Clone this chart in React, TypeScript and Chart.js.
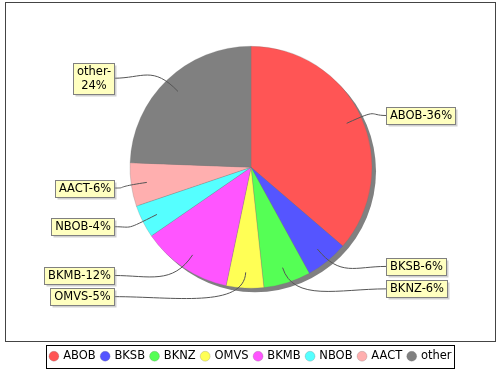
import React, { useEffect, useRef } from 'react';
import { Chart, registerables } from 'chart.js';

Chart.register(...registerables);

const categories = ['ABOB', 'BKSB', 'BKNZ', 'OMVS', 'BKMB', 'NBOB', 'AACT', 'other'];
const values = [36.3, 5.7, 6.3, 5.0, 12.1, 4.4, 5.8, 24.4];
const colors = ['#FF5555', '#5555FF', '#55FF55', '#FFFF55', '#FF55FF', '#55FFFF', '#FFAFAF', '#808080'];
const wrapLabel = [false, false, false, false, false, false, false, true];

const FONT = '"DejaVu Sans", sans-serif';

const decorPlugin = {
  id: 'pieDecor',
  beforeDatasetsDraw(chart: any) {
    const meta = chart.getDatasetMeta(0);
    const a = meta.data[0];
    if (!a) return;
    const { x, y, outerRadius } = a.getProps(['x', 'y', 'outerRadius'], true);
    const ctx = chart.ctx;
    ctx.save();
    ctx.fillStyle = '#808080';
    ctx.beginPath();
    ctx.arc(x + 4, y + 4, outerRadius, 0, Math.PI * 2);
    ctx.fill();
    ctx.restore();
  },
  afterDraw(chart: any) {
    const ctx = chart.ctx;
    ctx.save();
    // outer frame
    ctx.strokeStyle = '#444';
    ctx.lineWidth = 1;
    ctx.strokeRect(5.5, 2.5, 490, 339);

    // legend box
    const lg = chart.legend;
    if (lg && lg.legendHitBoxes && lg.legendHitBoxes.length) {
      const hb = lg.legendHitBoxes;
      const minX = Math.min(...hb.map((h: any) => h.left));
      const maxX = Math.max(...hb.map((h: any) => h.left + h.width));
      const minY = Math.min(...hb.map((h: any) => h.top));
      const maxY = Math.max(...hb.map((h: any) => h.top + h.height));
      ctx.strokeStyle = '#000';
      ctx.strokeRect(Math.round(minX - 4) + 0.5, Math.round(minY - 6) + 0.5, Math.round(maxX - minX + 7), Math.round(maxY - minY + 11));
    }

    // labels
    const meta = chart.getDatasetMeta(0);
    const total = values.reduce((s, v) => s + v, 0);
    ctx.font = '11.5px ' + FONT;
    const lineH = 14;
    const items: any[] = meta.data.map((arc: any, i: number) => {
      const p = arc.getProps(['x', 'y', 'startAngle', 'endAngle', 'outerRadius'], true);
      const mid = (p.startAngle + p.endAngle) / 2;
      const side = Math.cos(mid) >= 0 ? 1 : -1;
      const pct = Math.round((values[i] / total) * 100);
      const lines = wrapLabel[i] ? [categories[i] + '-', pct + '%'] : [categories[i] + '-' + pct + '%'];
      const w = Math.max(...lines.map((l) => ctx.measureText(l).width)) + 7;
      const h = lines.length * lineH + 3;
      const f = side > 0 ? 1.045 : 1.05;
      const off = side > 0 ? 1 : 2.5;
      const cyL = p.y + f * p.outerRadius * Math.sin(mid) + off;
      return { i, p, mid, side, lines, w, h, cyL };
    });
    [1, -1].forEach((side) => {
      const arr = items.filter((it) => it.side === side).sort((a, b) => a.cyL - b.cyL);
      let prevBottom = -Infinity;
      arr.forEach((it) => {
        if (it.cyL - it.h / 2 < prevBottom + 3) it.cyL = prevBottom + 3 + it.h / 2;
        prevBottom = it.cyL + it.h / 2;
      });
    });
    items.forEach((it) => {
      const { p, mid, side } = it;
      const R = p.outerRadius;
      const bx = side > 0 ? p.x + R + 14 : p.x - R - 16 - it.w;
      const by = it.cyL - it.h / 2;
      it.bx = bx;
      it.by = by;
      // link
      const sx = side > 0 ? bx : bx + it.w;
      const sy = it.cyL;
      const ax = p.x + 0.87 * R * Math.cos(mid);
      const ay = p.y + 0.87 * R * Math.sin(mid);
      const c2x = ax + 0.3 * R * Math.cos(mid);
      const c2y = ay + 0.3 * R * Math.sin(mid);
      const c1x = sx + (ax - sx) * 0.45;
      ctx.strokeStyle = '#555';
      ctx.lineWidth = 1;
      ctx.beginPath();
      ctx.moveTo(sx, sy);
      ctx.bezierCurveTo(c1x, sy, c2x, c2y, ax, ay);
      ctx.stroke();
    });
    items.forEach((it) => {
      const bx = Math.round(it.bx) + 0.5;
      const by = Math.round(it.by) + 0.5;
      const w = Math.round(it.w);
      const h = Math.round(it.h);
      ctx.fillStyle = 'rgba(150,150,150,0.45)';
      ctx.fillRect(bx + 2, by + 2, w, h);
      ctx.fillStyle = '#FFFFC0';
      ctx.fillRect(bx, by, w, h);
      ctx.strokeStyle = '#808080';
      ctx.strokeRect(bx, by, w, h);
      ctx.fillStyle = '#000';
      ctx.textAlign = 'center';
      ctx.textBaseline = 'middle';
      it.lines.forEach((l: string, k: number) => {
        ctx.fillText(l, bx + w / 2, by + 2 + lineH * k + lineH / 2);
      });
    });
    ctx.restore();
  },
};

export default function App() {
  const ref = useRef<HTMLCanvasElement | null>(null);
  useEffect(() => {
    document.body.style.margin = '0';
    if (!ref.current) return;
    const chart = new Chart(ref.current, {
      type: 'pie',
      data: {
        labels: categories,
        datasets: [
          {
            data: values,
            backgroundColor: colors,
            borderColor: 'rgba(110,110,110,0.5)',
            borderWidth: 0.5,
            radius: 121,
          } as any,
        ],
      },
      options: {
        animation: false,
        responsive: false,
        layout: { padding: { top: 0, left: 2, right: 0, bottom: -2 } },
        plugins: {
          tooltip: { enabled: false },
          legend: {
            position: 'bottom',
            title: {
              display: true,
              text: ' ',
              font: { size: 1, lineHeight: 1 },
              padding: { top: 9, bottom: 0 },
            },
            labels: {
              usePointStyle: true,
              pointStyle: 'circle',
              boxWidth: 7,
              boxHeight: 7,
              padding: 6,
              color: '#000',
              font: { family: FONT, size: 11.5 },
            },
          },
        },
      } as any,
      plugins: [decorPlugin],
    });
    return () => chart.destroy();
  }, []);
  return (
    <div style={{ width: 500, height: 370, background: '#fff' }}>
      <canvas ref={ref} width={500} height={370} style={{ display: 'block' }} />
    </div>
  );
}
